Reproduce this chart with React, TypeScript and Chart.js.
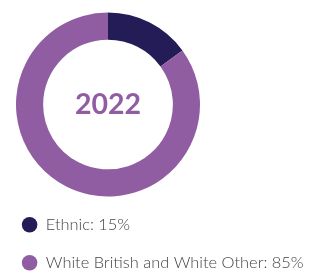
import React, { useEffect, useRef } from "react";
import { Chart, registerables } from "chart.js";

Chart.register(...registerables);

const categories: string[] = ["Ethnic", "White British and White Other"];
const values: number[] = [15, 85];
const colors: string[] = ["#241c56", "#915da2"];
const centerLabel = "2022";

export default function App() {
  const ref = useRef<HTMLCanvasElement | null>(null);

  useEffect(() => {
    if (!ref.current) return;
    const centerText = {
      id: "centerText",
      afterDraw(chart: any) {
        const meta = chart.getDatasetMeta(0);
        const arc = meta.data[0];
        if (!arc) return;
        const ctx = chart.ctx;
        ctx.save();
        ctx.font = "bold 28.5px Lato, 'Open Sans', sans-serif";
        ctx.fillStyle = "#915da2";
        ctx.textAlign = "center";
        ctx.textBaseline = "middle";
        ctx.fillText(centerLabel, arc.x, arc.y);
        ctx.restore();
      },
    };
    // keep the legend full width but put the doughnut in the left part
    const narrowArea = {
      id: "narrowArea",
      afterLayout(chart: any) {
        const a = chart.chartArea;
        a.right = 216;
        a.width = a.right - a.left;
      },
    };
    const baseGen = (Chart as any).overrides.doughnut.plugins.legend.labels.generateLabels;
    const chart = new Chart(ref.current, {
      type: "doughnut",
      data: {
        labels: categories,
        datasets: [
          {
            data: values,
            backgroundColor: colors,
            borderWidth: 0,
          },
        ],
      },
      options: {
        responsive: false,
        animation: false,
        radius: 92,
        cutout: "70.5%",
        layout: { padding: { top: 14, left: 0, right: 0, bottom: 0 } },
        plugins: {
          tooltip: { enabled: false },
          legend: {
            position: "bottom",
            align: "start",
            labels: {
              usePointStyle: true,
              pointStyle: "circle",
              boxWidth: 16,
              boxHeight: 11,
              padding: 21.6,
              color: "#444444",
              font: { size: 16.4, weight: "300", family: "Lato, 'Open Sans', sans-serif" },
              generateLabels(chart: any) {
                const items = baseGen(chart);
                return items.map((it: any, i: number) => ({
                  ...it,
                  text: `${categories[i]}: ${values[i]}%`,
                }));
              },
            },
          },
        },
      } as any,
      plugins: [narrowArea, centerText],
    });
    return () => chart.destroy();
  }, []);

  return (
    <div
      style={{
        position: "absolute",
        left: 0,
        top: 0,
        width: 312,
        height: 275,
        overflow: "hidden",
        background: "#ffffff",
      }}
    >
      <canvas ref={ref} width={312} height={281} style={{ display: "block" }} />
    </div>
  );
}
